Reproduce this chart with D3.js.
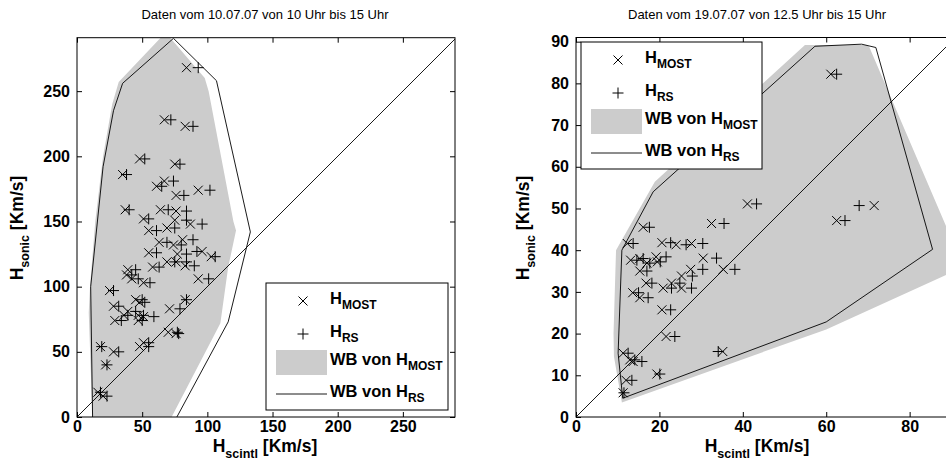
<!DOCTYPE html>
<html>
<head>
<meta charset="utf-8">
<script src="https://cdn.jsdelivr.net/npm/d3@7"></script>
<style>
body { margin: 0; background: #fff; }
svg { display: block; font-family: "Liberation Sans", Arial, Helvetica, sans-serif; }
</style>
</head>
<body>
<svg id="chart" width="946" height="465"></svg>
<script>
// ---- left panel: 10.07.07, 10 - 15 Uhr ----
var leftTitle = "Daten vom 10.07.07 von 10 Uhr bis 15 Uhr";
var leftSonic = [268, 228, 223, 198, 194, 186, 181, 177, 174, 170, 159, 159, 158, 152, 151, 148, 145, 143, 136, 134,
                 132, 127, 126, 125, 123, 119, 119, 116, 115, 113, 109, 106, 106, 103, 97, 90, 90, 88, 85, 83,
                 81, 78, 78, 77, 74, 74, 65, 64, 57, 54, 54, 50, 40, 19, 16];
var leftMost  = [84, 67, 83, 48, 75, 35, 67, 61, 93, 76, 37, 64, 76, 51, 75, 87, 69, 55, 81, 63,
                 74, 96, 55, 77, 103, 69, 76, 83, 58, 39, 38, 93, 42, 51, 25, 45, 83, 48, 28, 71,
                 39, 36, 47, 51, 29, 47, 70, 76, 51, 48, 18, 28, 22, 16, 20];
var leftRs    = [93, 72, 89, 52, 79, 38, 74, 65, 102, 82, 40, 70, 84, 55, 84, 96, 75, 61, 89, 69,
                 80, 92, 61, 84, 106, 75, 84, 90, 63, 45, 42, 101, 47, 56, 28, 50, 84, 52, 32, 79,
                 45, 39, 51, 59, 34, 50, 77, 78, 55, 55, 19, 32, 23, 18, 23];
var leftWbMost = [[12, -5], [9, 80], [10, 100], [14, 150], [20, 200], [27, 240], [32, 257], [68, 295],
                  [98, 260], [101, 250], [120, 150], [122, 143], [116, 115], [110, 72], [70, -5]];
var leftWbRs   = [[12, -3], [10.5, 100], [20, 192], [28, 235], [35, 256], [74, 290.5], [107, 258],
                  [133, 142], [116, 73], [75, -3]];
var leftTicks = [0, 50, 100, 150, 200, 250];

// ---- right panel: 19.07.07, 12.5 - 15 Uhr ----
var rightTitle = "Daten vom 19.07.07 von 12.5 Uhr bis 15 Uhr";
var rightSonic = [82.2, 51.1, 50.7, 47.1, 46.4, 45.5, 41.6, 41.8, 41.3, 41.6, 38.4, 38.0, 37.6, 37.2, 38.1, 36.9, 35.4, 35.4,
                  35.0, 33.8, 32.1, 32.1, 30.9, 30.9, 29.8, 28.6, 25.7, 19.3, 15.7, 15.3, 13.7, 13.3, 10.3, 8.8, 5.8];
var rightMost  = [61.1, 41.1, 71.5, 62.5, 32.5, 16.1, 12.3, 20.6, 24.0, 27.7, 19.2, 15.3, 13.1, 19.5, 30.5, 17.0, 35.3, 27.5,
                  15.3, 25.3, 16.8, 22.9, 20.9, 25.3, 13.6, 15.3, 20.6, 21.6, 35.2, 11.3, 12.9, 13.7, 19.4, 12.0, 11.3];
var rightRs    = [62.5, 43.3, 67.9, 64.5, 35.5, 17.6, 13.7, 22.7, 26.4, 30.4, 21.6, 16.1, 14.6, 20.2, 33.7, 17.7, 38.1, 30.4,
                  17.0, 27.9, 18.2, 24.9, 22.9, 27.7, 15.0, 17.3, 22.7, 23.7, 34.1, 12.5, 14.1, 15.8, 20.1, 13.4, 11.5];
var rightWbMost = [[11, 3.5], [9.1, 14.5], [9.0, 20], [9.6, 40], [18.9, 56.4], [54.9, 89.2], [69.7, 89.2],
                   [70.3, 88.8], [88.8, 45.6], [93, 36], [60, 21]];
var rightWbRs   = [[11.2, 4.5], [10.1, 15.3], [11, 40], [18.5, 54], [57.3, 88.9], [68.5, 89.4], [71.9, 88.6],
                   [85.5, 40.2], [60, 22.8]];
var rightXTicks = [0, 20, 40, 60, 80];
var rightYTicks = [0, 10, 20, 30, 40, 50, 60, 70, 80, 90];

var svg = d3.select("#chart");
var grey = "#cccccc";

function subText(sel, main, sub, rest, size, subSize) {
	sel.append("tspan").text(main);
	sel.append("tspan").attr("font-size", subSize).attr("dy", size * 0.33).text(sub);
	if (rest) sel.append("tspan").attr("dy", -size * 0.33).text(rest);
}

function drawCross(g, px, py, r) {
	g.append("path").attr("d", "M" + (px - r) + "," + (py - r) + "L" + (px + r) + "," + (py + r) +
		"M" + (px - r) + "," + (py + r) + "L" + (px + r) + "," + (py - r));
}
function drawPlus(g, px, py, r) {
	g.append("path").attr("d", "M" + (px - r) + "," + py + "L" + (px + r) + "," + py +
		"M" + px + "," + (py - r) + "L" + px + "," + (py + r));
}

function panel(o) {
	var x = d3.scaleLinear().domain(o.xDomain).range([o.left, o.left + o.w]);
	var y = d3.scaleLinear().domain(o.yDomain).range([o.bottom, o.bottom - o.h]);
	var g = svg.append("g");

	g.append("clipPath").attr("id", "clip-" + o.id)
		.append("rect").attr("x", o.left).attr("y", o.bottom - o.h).attr("width", o.w).attr("height", o.h);

	var plot = g.append("g").attr("clip-path", "url(#clip-" + o.id + ")");
	var line = d3.line().x(function(d){ return x(d[0]); }).y(function(d){ return y(d[1]); });

	plot.append("path").attr("d", line(o.wbMost) + "Z").attr("fill", grey).attr("stroke", "none");

	var dmax = Math.max(o.xDomain[1], o.yDomain[1]);
	plot.append("line")
		.attr("x1", x(0)).attr("y1", y(0)).attr("x2", x(dmax)).attr("y2", y(dmax))
		.attr("stroke", "#000").attr("stroke-width", 0.9);

	plot.append("path").attr("d", line(o.wbRs) + "Z")
		.attr("fill", "none").attr("stroke", "#000").attr("stroke-width", 0.9);

	var marks = plot.append("g").attr("stroke", "#000").attr("stroke-width", 1).attr("fill", "none");
	for (var i = 0; i < o.sonic.length; i++) {
		drawCross(marks, x(o.most[i]), y(o.sonic[i]), 4.5);
		drawPlus(marks, x(o.rs[i]), y(o.sonic[i]), 5.5);
	}

	// axes, ticks pointing inwards on all four sides
	var ax = g.append("g").attr("class", "axis");
	ax.append("g").attr("transform", "translate(0," + o.bottom + ")")
		.call(d3.axisBottom(x).tickValues(o.xTicks).tickSizeInner(-5).tickSizeOuter(0).tickPadding(4));
	ax.append("g").attr("transform", "translate(0," + (o.bottom - o.h) + ")")
		.call(d3.axisTop(x).tickValues(o.xTicks).tickSizeInner(-5).tickSizeOuter(0).tickFormat(""));
	ax.append("g").attr("transform", "translate(" + o.left + ",0)")
		.call(d3.axisLeft(y).tickValues(o.yTicks).tickSizeInner(-5).tickSizeOuter(0).tickPadding(7));
	ax.append("g").attr("transform", "translate(" + (o.left + o.w) + ",0)")
		.call(d3.axisRight(y).tickValues(o.yTicks).tickSizeInner(-5).tickSizeOuter(0).tickFormat(""));
	ax.selectAll(".domain").remove();
	ax.selectAll("line").attr("stroke", "#000");
	ax.selectAll("text").attr("font-size", 16).attr("font-weight", "bold").attr("fill", "#000")
		.attr("font-family", "'Liberation Sans', Arial, sans-serif");

	g.append("rect").attr("x", o.left).attr("y", o.bottom - o.h).attr("width", o.w).attr("height", o.h)
		.attr("fill", "none").attr("stroke", "#000").attr("stroke-width", 1);

	// title
	g.append("text").attr("x", o.titleX).attr("y", 19).attr("text-anchor", "middle")
		.attr("font-size", 13).attr("fill", "#000").text(o.title);

	// axis labels
	var xl = g.append("text").attr("x", o.xLabelX).attr("y", 452).attr("text-anchor", "middle")
		.attr("font-size", 17.5).attr("font-weight", "bold");
	subText(xl, "H", "scintl", " [Km/s]", 17.5, 12.5);
	var yl = g.append("text").attr("transform", "translate(" + o.yLabelX + ",228) rotate(-90)")
		.attr("text-anchor", "middle").attr("font-size", 17.5).attr("font-weight", "bold");
	subText(yl, "H", "sonic", " [Km/s]", 17.5, 12.5);

	// legend
	var L = o.legend;
	var lg = g.append("g");
	lg.append("rect").attr("x", L.x).attr("y", L.y).attr("width", L.w).attr("height", L.h)
		.attr("fill", "#fff").attr("stroke", "#000").attr("stroke-width", 1);
	var lm = lg.append("g").attr("stroke", "#000").attr("stroke-width", 1).attr("fill", "none");
	drawCross(lm, L.x + 37, L.y + 18, 4.5);
	drawPlus(lm, L.x + 37, L.y + 51, 5.5);
	lg.append("rect").attr("x", L.x + 10).attr("y", L.y + 67).attr("width", 51).attr("height", 25).attr("fill", grey);
	lg.append("line").attr("x1", L.x + 10).attr("x2", L.x + 61).attr("y1", L.y + 111).attr("y2", L.y + 111)
		.attr("stroke", "#000").attr("stroke-width", 0.9);
	var labels = [["H", "MOST"], ["H", "RS"], ["WB von H", "MOST"], ["WB von H", "RS"]];
	var rows = [18, 51, 79, 111];
	labels.forEach(function(l, k) {
		var t = lg.append("text").attr("x", L.x + 64).attr("y", L.y + rows[k] + 3)
			.attr("font-size", 16.5).attr("font-weight", "bold");
		subText(t, l[0], l[1], null, 16.5, 12);
	});
}

panel({
	id: "left", title: leftTitle, titleX: 265, xLabelX: 265, yLabelX: 23,
	left: 77, bottom: 417, w: 378, h: 379.3,
	xDomain: [0, 290], yDomain: [0, 291],
	xTicks: leftTicks, yTicks: leftTicks,
	sonic: leftSonic, most: leftMost, rs: leftRs,
	wbMost: leftWbMost, wbRs: leftWbRs,
	legend: {x: 266, y: 283, w: 182, h: 127}
});

panel({
	id: "right", title: rightTitle, titleX: 757, xLabelX: 757, yLabelX: 529,
	left: 576, bottom: 417, w: 379.5, h: 379.5,
	xDomain: [0, 91], yDomain: [0, 91],
	xTicks: rightXTicks, yTicks: rightYTicks,
	sonic: rightSonic, most: rightMost, rs: rightRs,
	wbMost: rightWbMost, wbRs: rightWbRs,
	legend: {x: 581, y: 42, w: 181, h: 127}
});
</script>
</body>
</html>
